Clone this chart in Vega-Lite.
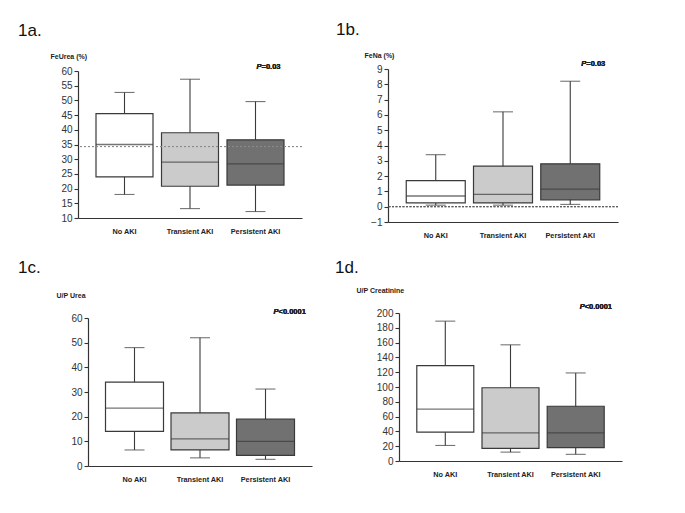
{
  "$schema": "https://vega.github.io/schema/vega-lite/v6.json",
  "background": "white",
  "padding": {"left": 18, "top": 21, "right": 5, "bottom": 5},
  "datasets": {
    "feurea": [
      {"group": "No AKI", "min": 18, "q1": 24, "median": 35, "q3": 45.5, "max": 52.7},
      {"group": "Transient AKI", "min": 13.2, "q1": 20.8, "median": 29, "q3": 39, "max": 57.2},
      {"group": "Persistent AKI", "min": 12.2, "q1": 21.2, "median": 28.4, "q3": 36.6, "max": 49.6}
    ],
    "fena": [
      {"group": "No AKI", "min": 0.1, "q1": 0.25, "median": 0.7, "q3": 1.7, "max": 3.4},
      {"group": "Transient AKI", "min": 0.1, "q1": 0.25, "median": 0.8, "q3": 2.65, "max": 6.2},
      {"group": "Persistent AKI", "min": 0.15, "q1": 0.45, "median": 1.15, "q3": 2.8, "max": 8.2}
    ],
    "upurea": [
      {"group": "No AKI", "min": 6.5, "q1": 14, "median": 23.5, "q3": 34, "max": 48},
      {"group": "Transient AKI", "min": 3.3, "q1": 6.5, "median": 11, "q3": 21.5, "max": 52},
      {"group": "Persistent AKI", "min": 2.7, "q1": 4.3, "median": 10, "q3": 19, "max": 31.2}
    ],
    "upcreat": [
      {"group": "No AKI", "min": 21, "q1": 39, "median": 70, "q3": 129, "max": 189},
      {"group": "Transient AKI", "min": 12, "q1": 17, "median": 38, "q3": 99, "max": 157},
      {"group": "Persistent AKI", "min": 9, "q1": 18, "median": 38, "q3": 74, "max": 119}
    ]
  },
  "spacing": 20,
  "vconcat": [
    {
      "spacing": 33,
      "hconcat": [
        {
          "title": {"text": "1a.", "dx": -60, "offset": 12},
          "width": 224, "height": 149,
          "data": {"name": "feurea"},
          "layer": [
            {"mark": {"type": "rule", "color": "#3a3a3a", "strokeWidth": 1.1},
             "encoding": {
               "x": {"field": "group", "type": "nominal", "scale": {"domain": ["No AKI", "Transient AKI", "Persistent AKI"], "paddingInner": 0, "paddingOuter": 0.21}, "axis": {"title": null}},
               "y": {"field": "min", "type": "quantitative", "scale": {"domain": [10, 60], "nice": false, "range": [149, 2]}, "axis": {"title": "FeUrea (%)", "values": [10, 15, 20, 25, 30, 35, 40, 45, 50, 55, 60], "titleX": -28, "titleY": -11}},
               "y2": {"field": "max"}}},
            {"mark": {"type": "tick", "size": 20, "thickness": 1.1, "color": "#3a3a3a"},
             "encoding": {"x": {"field": "group", "type": "nominal"}, "y": {"field": "max", "type": "quantitative", "axis": {"title": "FeUrea (%)", "values": [10, 15, 20, 25, 30, 35, 40, 45, 50, 55, 60], "titleX": -28, "titleY": -11}}}},
            {"mark": {"type": "tick", "size": 20, "thickness": 1.1, "color": "#3a3a3a"},
             "encoding": {"x": {"field": "group", "type": "nominal"}, "y": {"field": "min", "type": "quantitative", "axis": {"title": "FeUrea (%)", "values": [10, 15, 20, 25, 30, 35, 40, 45, 50, 55, 60], "titleX": -28, "titleY": -11}}}},
            {"mark": {"type": "bar", "size": 57, "stroke": "#3a3a3a", "strokeWidth": 1.2},
             "encoding": {"x": {"field": "group", "type": "nominal"}, "y": {"field": "q1", "type": "quantitative", "axis": {"title": "FeUrea (%)", "values": [10, 15, 20, 25, 30, 35, 40, 45, 50, 55, 60], "titleX": -28, "titleY": -11}}, "y2": {"field": "q3"},
               "fill": {"field": "group", "type": "nominal", "scale": {"domain": ["No AKI", "Transient AKI", "Persistent AKI"], "range": ["#ffffff", "#cbcbcb", "#717171"]}, "legend": null}}},
            {"mark": {"type": "tick", "size": 57, "thickness": 1.3, "color": "#3a3a3a"},
             "encoding": {"x": {"field": "group", "type": "nominal"}, "y": {"field": "median", "type": "quantitative", "axis": {"title": "FeUrea (%)", "values": [10, 15, 20, 25, 30, 35, 40, 45, 50, 55, 60], "titleX": -28, "titleY": -11}}}},
            {"mark": {"type": "rule", "color": "#8a8a8a", "strokeDash": [2, 2], "strokeWidth": 1},
             "encoding": {"y": {"datum": 34.3, "type": "quantitative", "axis": {"title": "FeUrea (%)", "values": [10, 15, 20, 25, 30, 35, 40, 45, 50, 55, 60], "titleX": -28, "titleY": -11}}}},
            {"mark": {"type": "text", "text": "P", "fontStyle": "italic", "fontWeight": "bold", "fontSize": 7.5, "align": "right", "baseline": "middle", "dx": 6, "color": "#222"},
             "encoding": {"x": {"datum": "Persistent AKI", "type": "nominal"}, "y": {"datum": 61.4, "type": "quantitative", "axis": {"title": "FeUrea (%)", "values": [10, 15, 20, 25, 30, 35, 40, 45, 50, 55, 60], "titleX": -28, "titleY": -11}}}},
            {"mark": {"type": "text", "text": "=0.03", "fontWeight": "bold", "fontSize": 7.5, "align": "left", "baseline": "middle", "dx": 6, "color": "#222"},
             "encoding": {"x": {"datum": "Persistent AKI", "type": "nominal"}, "y": {"datum": 61.4, "type": "quantitative", "axis": {"title": "FeUrea (%)", "values": [10, 15, 20, 25, 30, 35, 40, 45, 50, 55, 60], "titleX": -28, "titleY": -11}}}}
          ]
        },
        {
          "title": {"text": "1b.", "dx": -52, "offset": 12},
          "width": 230, "height": 153,
          "data": {"name": "fena"},
          "layer": [
            {"mark": {"type": "rule", "color": "#3a3a3a", "strokeWidth": 1.1},
             "encoding": {
               "x": {"field": "group", "type": "nominal", "scale": {"domain": ["No AKI", "Transient AKI", "Persistent AKI"], "paddingInner": 0, "paddingOuter": 0.21}, "axis": {"title": null}},
               "y": {"field": "min", "type": "quantitative", "scale": {"domain": [-1, 9], "nice": false}, "axis": {"title": "FeNa (%)", "values": [-1, 0, 1, 2, 3, 4, 5, 6, 7, 8, 9], "titleX": -24, "format": "d"}},
               "y2": {"field": "max"}}},
            {"mark": {"type": "tick", "size": 20, "thickness": 1.1, "color": "#3a3a3a"},
             "encoding": {"x": {"field": "group", "type": "nominal"}, "y": {"field": "max", "type": "quantitative", "axis": {"title": "FeNa (%)", "values": [-1, 0, 1, 2, 3, 4, 5, 6, 7, 8, 9], "titleX": -24, "format": "d"}}}},
            {"mark": {"type": "tick", "size": 20, "thickness": 1.1, "color": "#3a3a3a"},
             "encoding": {"x": {"field": "group", "type": "nominal"}, "y": {"field": "min", "type": "quantitative", "axis": {"title": "FeNa (%)", "values": [-1, 0, 1, 2, 3, 4, 5, 6, 7, 8, 9], "titleX": -24, "format": "d"}}}},
            {"mark": {"type": "bar", "size": 59, "stroke": "#3a3a3a", "strokeWidth": 1.2},
             "encoding": {"x": {"field": "group", "type": "nominal"}, "y": {"field": "q1", "type": "quantitative", "axis": {"title": "FeNa (%)", "values": [-1, 0, 1, 2, 3, 4, 5, 6, 7, 8, 9], "titleX": -24, "format": "d"}}, "y2": {"field": "q3"},
               "fill": {"field": "group", "type": "nominal", "scale": {"domain": ["No AKI", "Transient AKI", "Persistent AKI"], "range": ["#ffffff", "#cbcbcb", "#717171"]}, "legend": null}}},
            {"mark": {"type": "tick", "size": 59, "thickness": 1.3, "color": "#3a3a3a"},
             "encoding": {"x": {"field": "group", "type": "nominal"}, "y": {"field": "median", "type": "quantitative", "axis": {"title": "FeNa (%)", "values": [-1, 0, 1, 2, 3, 4, 5, 6, 7, 8, 9], "titleX": -24, "format": "d"}}}},
            {"mark": {"type": "rule", "color": "#555", "strokeDash": [2, 1.5], "strokeWidth": 0.8},
             "encoding": {"y": {"datum": 0, "type": "quantitative", "axis": {"title": "FeNa (%)", "values": [-1, 0, 1, 2, 3, 4, 5, 6, 7, 8, 9], "titleX": -24, "format": "d"}}}},
            {"mark": {"type": "text", "text": "P", "fontStyle": "italic", "fontWeight": "bold", "fontSize": 7.5, "align": "right", "baseline": "middle", "dx": 16, "color": "#222"},
             "encoding": {"x": {"datum": "Persistent AKI", "type": "nominal"}, "y": {"datum": 9.33, "type": "quantitative", "axis": {"title": "FeNa (%)", "values": [-1, 0, 1, 2, 3, 4, 5, 6, 7, 8, 9], "titleX": -24, "format": "d"}}}},
            {"mark": {"type": "text", "text": "=0.03", "fontWeight": "bold", "fontSize": 7.5, "align": "left", "baseline": "middle", "dx": 16, "color": "#222"},
             "encoding": {"x": {"datum": "Persistent AKI", "type": "nominal"}, "y": {"datum": 9.33, "type": "quantitative", "axis": {"title": "FeNa (%)", "values": [-1, 0, 1, 2, 3, 4, 5, 6, 7, 8, 9], "titleX": -24, "format": "d"}}}}
          ]
        }
      ]
    },
    {
      "spacing": 23,
      "hconcat": [
        {
          "title": {"text": "1c.", "dx": -60, "offset": 14},
          "width": 234, "height": 153,
          "data": {"name": "upurea"},
          "layer": [
            {"mark": {"type": "rule", "color": "#3a3a3a", "strokeWidth": 1.1},
             "encoding": {
               "x": {"field": "group", "type": "nominal", "scale": {"domain": ["No AKI", "Transient AKI", "Persistent AKI"], "paddingInner": 0, "paddingOuter": 0.21, "range": [10, 234]}, "axis": {"title": null}},
               "y": {"field": "min", "type": "quantitative", "scale": {"domain": [0, 60], "nice": false, "range": [153, 5]}, "axis": {"title": "U/P Urea", "values": [0, 10, 20, 30, 40, 50, 60], "offset": -10, "titleX": -32, "titleY": -16}},
               "y2": {"field": "max"}}},
            {"mark": {"type": "tick", "size": 20, "thickness": 1.1, "color": "#3a3a3a"},
             "encoding": {"x": {"field": "group", "type": "nominal"}, "y": {"field": "max", "type": "quantitative", "axis": {"title": "U/P Urea", "values": [0, 10, 20, 30, 40, 50, 60], "offset": -10, "titleX": -32, "titleY": -16}}}},
            {"mark": {"type": "tick", "size": 20, "thickness": 1.1, "color": "#3a3a3a"},
             "encoding": {"x": {"field": "group", "type": "nominal"}, "y": {"field": "min", "type": "quantitative", "axis": {"title": "U/P Urea", "values": [0, 10, 20, 30, 40, 50, 60], "offset": -10, "titleX": -32, "titleY": -16}}}},
            {"mark": {"type": "bar", "size": 58, "stroke": "#3a3a3a", "strokeWidth": 1.2},
             "encoding": {"x": {"field": "group", "type": "nominal"}, "y": {"field": "q1", "type": "quantitative", "axis": {"title": "U/P Urea", "values": [0, 10, 20, 30, 40, 50, 60], "offset": -10, "titleX": -32, "titleY": -16}}, "y2": {"field": "q3"},
               "fill": {"field": "group", "type": "nominal", "scale": {"domain": ["No AKI", "Transient AKI", "Persistent AKI"], "range": ["#ffffff", "#cbcbcb", "#717171"]}, "legend": null}}},
            {"mark": {"type": "tick", "size": 58, "thickness": 1.3, "color": "#3a3a3a"},
             "encoding": {"x": {"field": "group", "type": "nominal"}, "y": {"field": "median", "type": "quantitative", "axis": {"title": "U/P Urea", "values": [0, 10, 20, 30, 40, 50, 60], "offset": -10, "titleX": -32, "titleY": -16}}}},
            {"mark": {"type": "text", "text": "P", "fontStyle": "italic", "fontWeight": "bold", "fontSize": 7.5, "align": "right", "baseline": "middle", "dx": 13, "color": "#222"},
             "encoding": {"x": {"datum": "Persistent AKI", "type": "nominal"}, "y": {"datum": 62.4, "type": "quantitative", "axis": {"title": "U/P Urea", "values": [0, 10, 20, 30, 40, 50, 60], "offset": -10, "titleX": -32, "titleY": -16}}}},
            {"mark": {"type": "text", "text": "<0.0001", "fontWeight": "bold", "fontSize": 7.5, "align": "left", "baseline": "middle", "dx": 13, "color": "#222"},
             "encoding": {"x": {"datum": "Persistent AKI", "type": "nominal"}, "y": {"datum": 62.4, "type": "quantitative", "axis": {"title": "U/P Urea", "values": [0, 10, 20, 30, 40, 50, 60], "offset": -10, "titleX": -32, "titleY": -16}}}}
          ]
        },
        {
          "title": {"text": "1d.", "dx": -64, "offset": 9},
          "width": 223, "height": 148,
          "data": {"name": "upcreat"},
          "layer": [
            {"mark": {"type": "rule", "color": "#3a3a3a", "strokeWidth": 1.1},
             "encoding": {
               "x": {"field": "group", "type": "nominal", "scale": {"domain": ["No AKI", "Transient AKI", "Persistent AKI"], "paddingInner": 0, "paddingOuter": 0.21}, "axis": {"title": null}},
               "y": {"field": "min", "type": "quantitative", "scale": {"domain": [0, 200], "nice": false}, "axis": {"title": "U/P Creatinine", "values": [0, 20, 40, 60, 80, 100, 120, 140, 160, 180, 200], "titleX": -43, "titleY": -21}},
               "y2": {"field": "max"}}},
            {"mark": {"type": "tick", "size": 20, "thickness": 1.1, "color": "#3a3a3a"},
             "encoding": {"x": {"field": "group", "type": "nominal"}, "y": {"field": "max", "type": "quantitative", "axis": {"title": "U/P Creatinine", "values": [0, 20, 40, 60, 80, 100, 120, 140, 160, 180, 200], "titleX": -43, "titleY": -21}}}},
            {"mark": {"type": "tick", "size": 20, "thickness": 1.1, "color": "#3a3a3a"},
             "encoding": {"x": {"field": "group", "type": "nominal"}, "y": {"field": "min", "type": "quantitative", "axis": {"title": "U/P Creatinine", "values": [0, 20, 40, 60, 80, 100, 120, 140, 160, 180, 200], "titleX": -43, "titleY": -21}}}},
            {"mark": {"type": "bar", "size": 57, "stroke": "#3a3a3a", "strokeWidth": 1.2},
             "encoding": {"x": {"field": "group", "type": "nominal"}, "y": {"field": "q1", "type": "quantitative", "axis": {"title": "U/P Creatinine", "values": [0, 20, 40, 60, 80, 100, 120, 140, 160, 180, 200], "titleX": -43, "titleY": -21}}, "y2": {"field": "q3"},
               "fill": {"field": "group", "type": "nominal", "scale": {"domain": ["No AKI", "Transient AKI", "Persistent AKI"], "range": ["#ffffff", "#cbcbcb", "#717171"]}, "legend": null}}},
            {"mark": {"type": "tick", "size": 57, "thickness": 1.3, "color": "#3a3a3a"},
             "encoding": {"x": {"field": "group", "type": "nominal"}, "y": {"field": "median", "type": "quantitative", "axis": {"title": "U/P Creatinine", "values": [0, 20, 40, 60, 80, 100, 120, 140, 160, 180, 200], "titleX": -43, "titleY": -21}}}},
            {"mark": {"type": "text", "text": "P", "fontStyle": "italic", "fontWeight": "bold", "fontSize": 7.5, "align": "right", "baseline": "middle", "dx": 9, "color": "#222"},
             "encoding": {"x": {"datum": "Persistent AKI", "type": "nominal"}, "y": {"datum": 208, "type": "quantitative", "axis": {"title": "U/P Creatinine", "values": [0, 20, 40, 60, 80, 100, 120, 140, 160, 180, 200], "titleX": -43, "titleY": -21}}}},
            {"mark": {"type": "text", "text": "<0.0001", "fontWeight": "bold", "fontSize": 7.5, "align": "left", "baseline": "middle", "dx": 9, "color": "#222"},
             "encoding": {"x": {"datum": "Persistent AKI", "type": "nominal"}, "y": {"datum": 208, "type": "quantitative", "axis": {"title": "U/P Creatinine", "values": [0, 20, 40, 60, 80, 100, 120, 140, 160, 180, 200], "titleX": -43, "titleY": -21}}}}
          ]
        }
      ]
    }
  ],
  "config": {
    "view": {"stroke": null},
    "font": "Liberation Sans",
    "title": {"anchor": "start", "frame": "group", "fontSize": 17, "fontWeight": "normal", "font": "Liberation Sans", "color": "#111"},
    "axis": {"grid": false, "domainColor": "#333", "tickColor": "#333", "labelColor": "#333", "labelFont": "Liberation Sans", "domainWidth": 1.2, "tickWidth": 1.1},
    "axisX": {"labelAngle": 0, "labelFontWeight": "bold", "labelFontSize": 7.3, "labelPadding": 5, "tickSize": 4, "labelColor": "#222",
      "tickOpacity": {"condition": {"test": "datum.value === 'Transient AKI'", "value": 1}, "value": 0}},
    "axisY": {"tickSize": 4, "labelFontSize": 10, "labelPadding": 2, "labelOverlap": false, "labelFlush": false, "titleAngle": 0, "titleAlign": "left", "titleBaseline": "alphabetic", "titleY": -12, "titleFontSize": 7, "titleFontWeight": "bold", "titleColor": "#222", "titleFont": "Liberation Sans"}
  }
}
